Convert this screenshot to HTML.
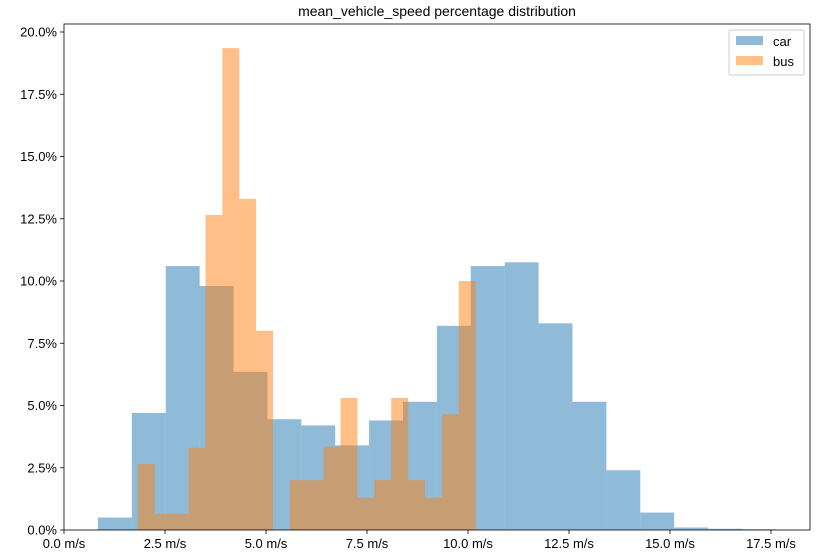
<!DOCTYPE html>
<html><head><meta charset="utf-8">
<style>
html,body{margin:0;padding:0;background:#fff;}
svg{display:block;font-family:"Liberation Sans","DejaVu Sans",sans-serif;}
</style></head>
<body>
<svg id="chart" width="821" height="560" xmlns="http://www.w3.org/2000/svg">
<rect x="0" y="0" width="821" height="560" fill="#fff"/>
<text x="437" y="16" font-size="14" text-anchor="middle">mean_vehicle_speed percentage distribution</text>
<g id="bars"></g>
<g id="axes"></g>
<g>
<rect x="729" y="30" width="75" height="45" fill="#fff" stroke="#ccc" rx="2"/>
<g><rect x="736" y="36" width="27" height="9" fill="#1f77b4" fill-opacity="0.5"/><text x="773" y="46" font-size="13">car</text></g>
<g><rect x="736" y="56" width="27" height="9" fill="#ff7f0e" fill-opacity="0.5"/><text x="773" y="66" font-size="13">bus</text></g>
</g>
</svg>
<script>
const carStart = 0.84;
const carWidth = 0.839;
const carValues = [0.5,4.7,10.6,9.8,6.35,4.45,4.2,3.4,4.4,5.15,8.2,10.6,10.75,8.3,5.15,2.4,0.7,0.1,0.05,0.03];
const busStart = 1.83;
const busWidth = 0.418;
const busValues = [2.65,0.65,0.65,3.3,12.65,19.35,13.3,8.0,0,2.0,2.0,3.35,5.3,1.3,2.0,5.3,2.0,1.3,4.65,10.0];
const xTicks = [0,2.5,5,7.5,10,12.5,15,17.5];
const xTickLabels = ["0.0 m/s","2.5 m/s","5.0 m/s","7.5 m/s","10.0 m/s","12.5 m/s","15.0 m/s","17.5 m/s"];
const yTicks = [0,2.5,5,7.5,10,12.5,15,17.5,20];
const yTickLabels = ["0.0%","2.5%","5.0%","7.5%","10.0%","12.5%","15.0%","17.5%","20.0%"];

const L=64,R=810,T=24,B=530;
const xs=v=>L+v*40.4;
const ys=v=>B-v*24.9;
const NS="http://www.w3.org/2000/svg";
const bars=document.getElementById('bars'), axes=document.getElementById('axes');
function mk(tag,attrs,parent){const e=document.createElementNS(NS,tag);for(const k in attrs)e.setAttribute(k,attrs[k]);parent.appendChild(e);return e;}

carValues.forEach((v,i)=>{
  const x0=xs(carStart+i*carWidth),x1=xs(carStart+(i+1)*carWidth);
  const r=mk('rect',{x:x0,y:ys(v),width:x1-x0,height:B-ys(v),fill:'#1f77b4','fill-opacity':0.5},bars);
  
  
});
busValues.forEach((v,i)=>{
  const x0=xs(busStart+i*busWidth),x1=xs(busStart+(i+1)*busWidth);
  const r=mk('rect',{x:x0,y:ys(v),width:x1-x0,height:B-ys(v),fill:'#ff7f0e','fill-opacity':0.5},bars);
  
  
});

const frame=mk('rect',{x:L,y:T,width:R-L,height:B-T,fill:'none',stroke:'#000','stroke-width':0.8},axes);



xTicks.forEach((v,i)=>{
  const x=xs(v);
  mk('line',{x1:x,x2:x,y1:B,y2:B+4,stroke:'#000','stroke-width':0.8},axes);
  const t=mk('text',{x:x,y:B+18,'font-size':13,'text-anchor':'middle'},axes);
  t.textContent=xTickLabels[i];
  
  
});
yTicks.forEach((v,i)=>{
  const y=ys(v);
  mk('line',{x1:L-4,x2:L,y1:y,y2:y,stroke:'#000','stroke-width':0.8},axes);
  const t=mk('text',{x:L-7,y:y+4.5,'font-size':13,'text-anchor':'end'},axes);
  t.textContent=yTickLabels[i];
  
  
});
</script>
</body></html>
